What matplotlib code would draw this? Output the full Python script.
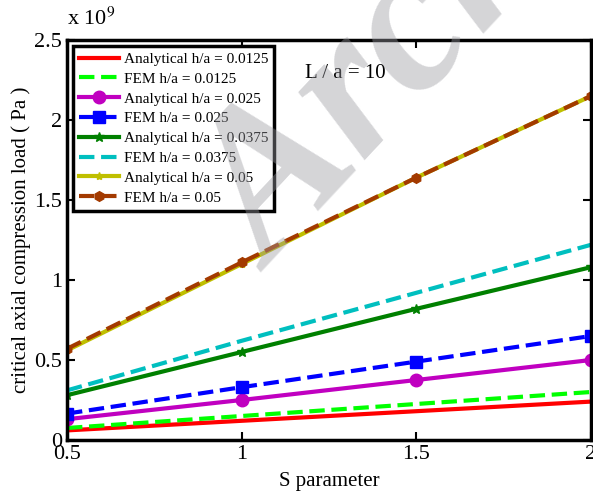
import numpy as np
import matplotlib.pyplot as plt

plt.rcParams['font.family'] = ['Liberation Serif', 'DejaVu Serif']
plt.rcParams['mathtext.fontset'] = 'stix'

# S parameter values
S = [0.5, 1.0, 1.5, 2.0]

# critical axial compression load (x 1e9 Pa)
ana_0125 = [0.06, 0.12, 0.18, 0.24]
fem_0125 = [0.075, 0.15, 0.225, 0.30]
ana_025 = [0.13, 0.25, 0.375, 0.50]
fem_025 = [0.165, 0.33, 0.49, 0.65]
ana_0375 = [0.28, 0.55, 0.82, 1.08]
fem_0375 = [0.31, 0.62, 0.92, 1.22]
ana_05 = [0.56, 1.10, 1.64, 2.15]
fem_05 = [0.57, 1.11, 1.64, 2.15]

fig = plt.figure(figsize=(5.93, 4.92), dpi=100)
ax = fig.add_axes([67/593, 52/492, 524/593, 400/492])

sc = 1e9
ax.plot(S, np.array(ana_0125)*sc, '-', color='red', lw=3, label='Analytical h/a = 0.0125')
ax.plot(S, np.array(fem_0125)*sc, '--', color='#00ff00', lw=3, label='FEM h/a = 0.0125')
ax.plot(S, np.array(ana_025)*sc, '-o', color='#c000c0', lw=3, ms=9, label='Analytical h/a = 0.025')
ax.plot(S, np.array(fem_025)*sc, '--s', color='blue', lw=3, ms=9, label='FEM h/a = 0.025')
ax.plot(S, np.array(ana_0375)*sc, '-*', color='#008000', lw=3, ms=7, label='Analytical h/a = 0.0375')
ax.plot(S, np.array(fem_0375)*sc, '--', color='#00bfbf', lw=3, label='FEM h/a = 0.0375')
ax.plot(S, np.array(ana_05)*sc, '-*', color='#bfbf00', lw=3, ms=6, label='Analytical h/a = 0.05')
ax.plot(S, np.array(fem_05)*sc, '--h', color='#a33a00', lw=3, ms=7, label='FEM h/a = 0.05')

ax.set_xlim(0.5, 2)
ax.set_ylim(0, 2.5e9)
ax.set_xticks([0.5, 1, 1.5, 2])
ax.set_xticklabels(['0.5', '1', '1.5', '2'])
ax.set_yticks([0, 0.5e9, 1e9, 1.5e9, 2e9, 2.5e9])
ax.set_yticklabels(['0', '0.5', '1', '1.5', '2', '2.5'])
ax.tick_params(direction='in', labelsize=16, width=1.5, length=6, top=True, right=True)
for sp in ax.spines.values():
    sp.set_linewidth(2.5)

ax.text(0.0, 1.025, 'x 10$^9$', transform=ax.transAxes, fontsize=16, va='bottom', ha='left')
ax.text(1.18, 2.29e9, 'L / a = 10', fontsize=15, va='center')

ax.set_xlabel('S parameter', fontsize=15, labelpad=6)
ax.set_ylabel('critical axial compression load ( Pa )', fontsize=15, labelpad=2)

leg = ax.legend(loc='upper left', fontsize=11, handlelength=2.6, fancybox=False,
                framealpha=1, edgecolor='black', borderaxespad=0.4,
                labelspacing=0.4, handletextpad=0.3, borderpad=0.4)
leg.get_frame().set_linewidth(2.5)
leg.set_zorder(5)

# watermark drawn over everything, semi-transparent
fig.text(272/593, 1 - 272/492, 'Archive of SID', rotation=47,
         rotation_mode='anchor', ha='left', va='baseline',
         fontsize=150, fontweight='bold', fontstyle='italic', color='#9a9aa0',
         alpha=0.42, zorder=10)

fig.savefig('out.png', dpi=100)
